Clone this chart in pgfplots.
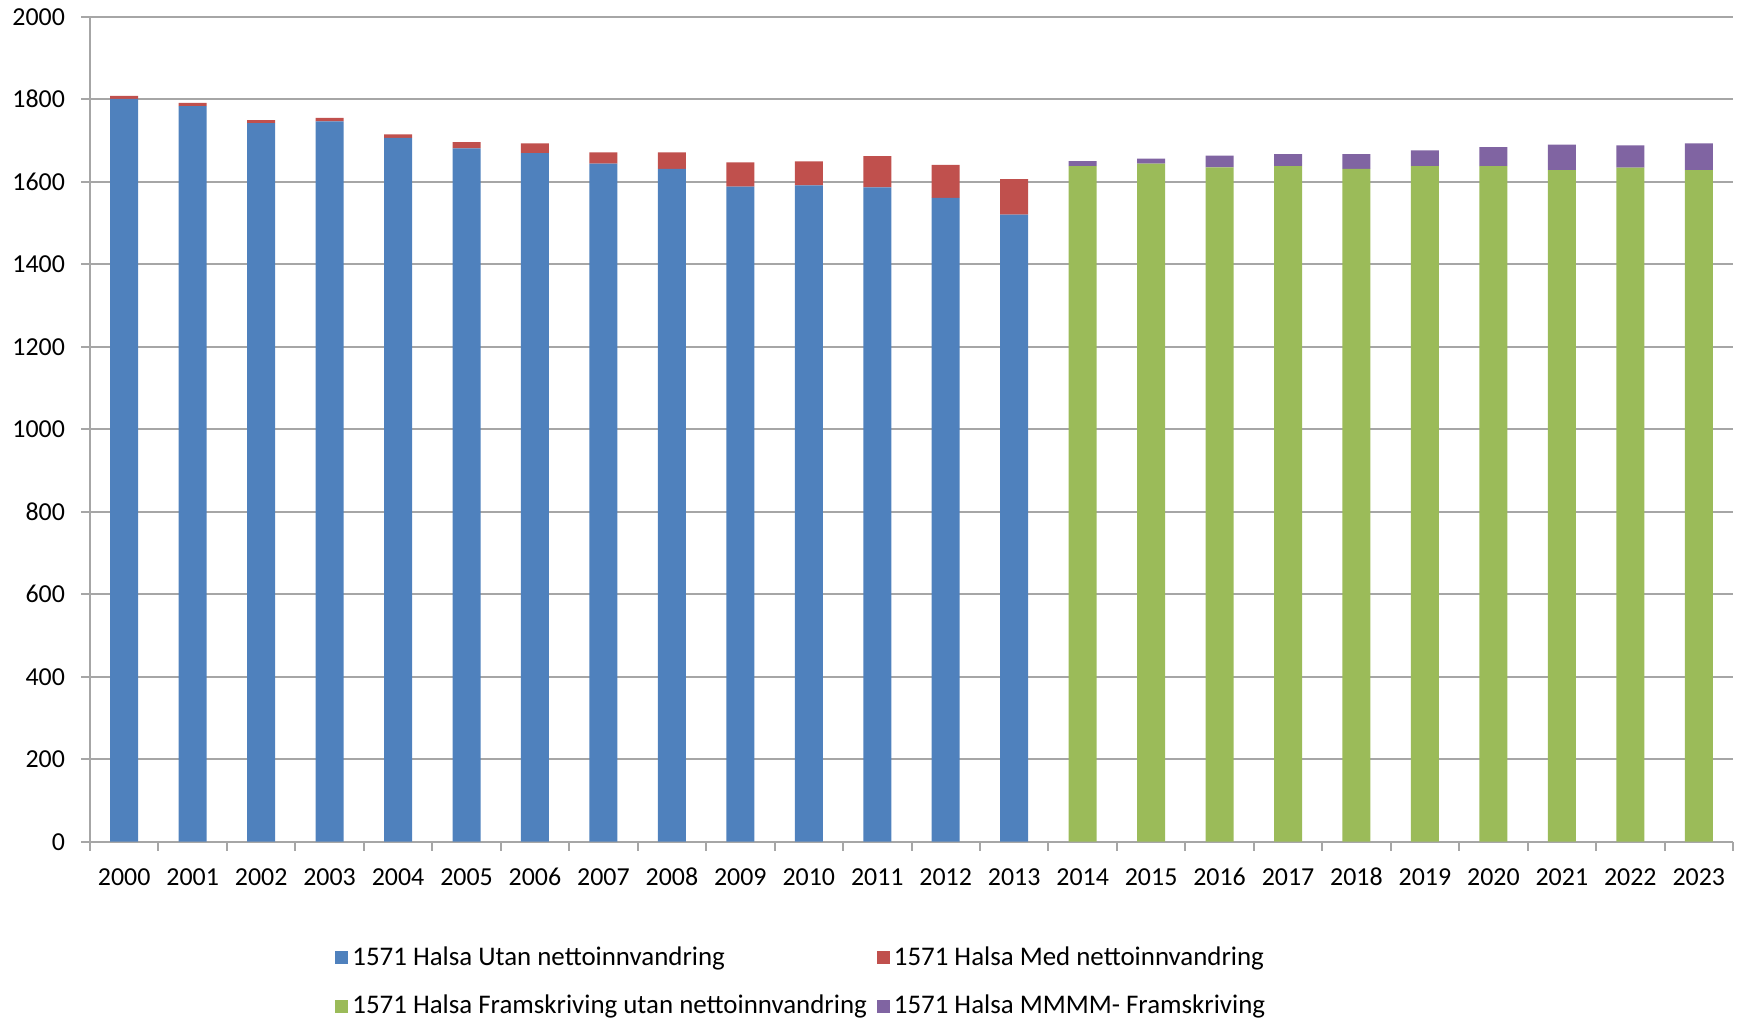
\documentclass[border=0pt]{standalone}
\usepackage{fontspec}
\setmainfont{Carlito}
\usepackage{pgfplots}
\pgfplotsset{compat=1.18}
\usepackage{pgfplotstable}

\definecolor{cblue}{HTML}{4F81BD}
\definecolor{cred}{HTML}{C0504D}
\definecolor{cgreen}{HTML}{9BBB59}
\definecolor{cpurple}{HTML}{8064A2}
\definecolor{gridgray}{HTML}{A6A6A6}

% Halsa population: observed 2000-2013, projected 2014-2023
\pgfplotstableread{
year utan med fram mmmm
2000 1801 7  0    0
2001 1783 8  0    0
2002 1742 7  0    0
2003 1746 9  0    0
2004 1706 9  0    0
2005 1681 15 0    0
2006 1669 24 0    0
2007 1644 27 0    0
2008 1631 40 0    0
2009 1588 59 0    0
2010 1591 58 0    0
2011 1586 76 0    0
2012 1561 80 0    0
2013 1520 86 0    0
2014 0    0  1638 12
2015 0    0  1644 12
2016 0    0  1635 28
2017 0    0  1638 29
2018 0    0  1631 36
2019 0    0  1638 38
2020 0    0  1638 46
2021 0    0  1628 62
2022 0    0  1634 54
2023 0    0  1628 65
}\halsa

\pgfplotsset{sq/.style={legend image code/.code={\fill[##1] (-2bp,-3.25bp) rectangle (4.5bp,3.25bp);}}}

\begin{document}
\begin{tikzpicture}
\useasboundingbox (-45bp,-88.5bp) rectangle (827bp,420.85bp);
\begin{axis}[
  at={(0,0)}, anchor=south west,
  scale only axis, width=821.5bp, height=412.5bp,
  ybar stacked, bar width=14bp,
  xmin=1999.5, xmax=2023.5, ymin=0, ymax=2000,
  xtick={1999.5,2000.5,...,2023.5},
  x tick label as interval,
  xticklabels={2000,2001,2002,2003,2004,2005,2006,2007,2008,2009,2010,2011,2012,2013,2014,2015,2016,2017,2018,2019,2020,2021,2022,2023},
  ytick={0,200,...,2000},
  axis lines*=left,
  axis line style={gridgray, line width=1bp, -},
  ymajorgrids, grid style={gridgray, line width=1bp},
  tick align=outside, major tick length=4.5bp,
  tick style={gridgray, line width=1bp},
  /pgf/number format/assume math mode=true,
  /pgf/number format/1000 sep={},
  tick label style={font=\fontsize{13}{15}\selectfont, black},
  xticklabel style={text height=9bp, text depth=0bp, yshift=-5bp},
  yticklabel style={xshift=-4.5bp},
  legend columns=2,
  legend cell align=left,
  legend style={draw=none, fill=none, at={(0.1455,-0.117)}, anchor=north west,
    font=\fontsize{13.5}{16}\selectfont, row sep=9.5bp,
    /tikz/every even column/.append style={column sep=3bp}},
]
\addplot[fill=cblue, draw=none, sq] table[x=year, y=utan] {\halsa};
\addlegendentry{1571 Halsa Utan nettoinnvandring}
\addplot[fill=cred, draw=none, sq] table[x=year, y=med] {\halsa};
\addlegendentry{1571 Halsa Med nettoinnvandring}
\addplot[fill=cgreen, draw=none, sq] table[x=year, y=fram] {\halsa};
\addlegendentry{1571 Halsa Framskriving utan nettoinnvandring}
\addplot[fill=cpurple, draw=none, sq] table[x=year, y=mmmm] {\halsa};
\addlegendentry{1571 Halsa MMMM- Framskriving}
\end{axis}
\end{tikzpicture}
\end{document}
